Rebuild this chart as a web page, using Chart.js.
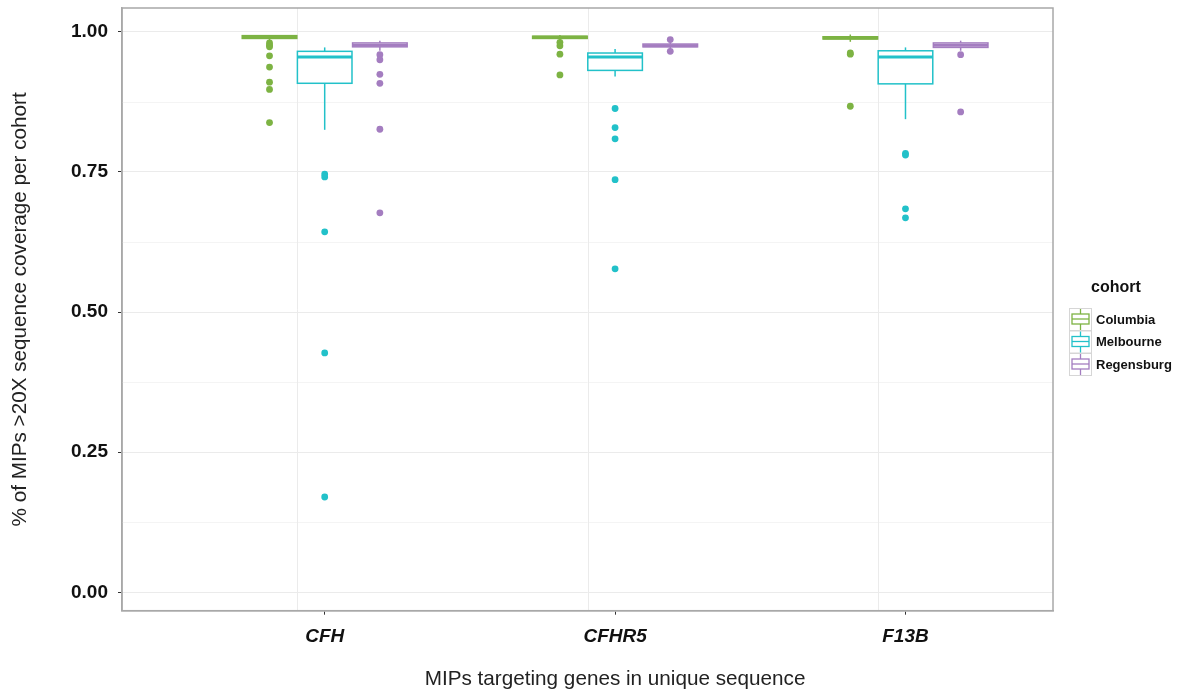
<!DOCTYPE html>
<html><head><meta charset="utf-8">
<script src="https://cdn.jsdelivr.net/npm/chart.js@4.4.1/dist/chart.umd.min.js"></script>
<style>html,body{margin:0;padding:0;background:#fff;}canvas{display:block;}</style>
</head><body>
<canvas id="c" width="1177" height="694"></canvas>
<script>
const genes = ['CFH', 'CFHR5', 'F13B'];
const cohorts = ['Columbia', 'Melbourne', 'Regensburg'];
const colors = ['#7DB343', '#22C1C9', '#A47DC0'];
const yTicks = [0, 0.25, 0.5, 0.75, 1.0];
const yMinorTicks = [0.125, 0.375, 0.625, 0.875];
const xTitle = 'MIPs targeting genes in unique sequence';
const yTitle = '% of MIPs >20X sequence coverage per cohort';

// box stats per gene: [whiskerLow, q1, median, q3, whiskerHigh]
const columbiaStats = [
  [0.984, 0.988, 0.991, 0.993, 0.994],
  [0.983, 0.988, 0.990, 0.992, 0.994],
  [0.982, 0.987, 0.989, 0.991, 0.995]
];
const melbourneStats = [
  [0.825, 0.908, 0.955, 0.965, 0.972],
  [0.920, 0.931, 0.955, 0.962, 0.969],
  [0.844, 0.907, 0.955, 0.966, 0.972]
];
const regensburgStats = [
  [0.966, 0.973, 0.976, 0.980, 0.984],
  [0.969, 0.973, 0.975, 0.978, 0.981],
  [0.966, 0.972, 0.976, 0.980, 0.984]
];

// outliers per gene
const columbiaOutliers = [
  [0.980, 0.976, 0.973, 0.957, 0.937, 0.910, 0.897, 0.838],
  [0.981, 0.975, 0.960, 0.923],
  [0.962, 0.960, 0.867]
];
const melbourneOutliers = [
  [0.746, 0.741, 0.643, 0.427, 0.170],
  [0.863, 0.829, 0.809, 0.736, 0.577],
  [0.783, 0.780, 0.684, 0.668]
];
const regensburgOutliers = [
  [0.959, 0.950, 0.924, 0.908, 0.826, 0.677],
  [0.986, 0.965],
  [0.959, 0.857]
];

const allStats = [columbiaStats, melbourneStats, regensburgStats];
const allOutliers = [columbiaOutliers, melbourneOutliers, regensburgOutliers];
const dodge = [-0.19, 0, 0.19];
const HALF = 0.094;
const FONT = "'Liberation Sans', Arial, sans-serif";

const datasets = cohorts.map((name, j) => ({
  label: name,
  data: allOutliers[j].flatMap((vals, i) => vals.map(v => ({ x: i + 1 + dodge[j], y: v }))),
  backgroundColor: colors[j],
  borderColor: colors[j],
  pointRadius: 3.4,
  pointBorderWidth: 0,
  pointHoverRadius: 3.4
}));

function line(ctx, x1, y1, x2, y2) {
  ctx.beginPath(); ctx.moveTo(x1, y1); ctx.lineTo(x2, y2); ctx.stroke();
}

const boxPlugin = {
  id: 'boxes',
  beforeDatasetsDraw(chart) {
    const { ctx, chartArea: a, scales: { x, y } } = chart;
    ctx.save();
    ctx.lineWidth = 1;
    ctx.strokeStyle = '#f4f4f4';
    yMinorTicks.forEach(v => {
      const py = Math.round(y.getPixelForValue(v)) + 0.5;
      line(ctx, a.left, py, a.right, py);
    });
    ctx.strokeStyle = '#ebebeb';
    genes.forEach((g, i) => {
      const px = Math.round(x.getPixelForValue(i + 1 - 0.095)) + 0.5;
      line(ctx, px, a.top, px, a.bottom);
    });
    allStats.forEach((stats, j) => {
      stats.forEach((s, i) => {
        const c = i + 1 + dodge[j];
        const xl = x.getPixelForValue(c - HALF);
        const xr = x.getPixelForValue(c + HALF);
        const xc = x.getPixelForValue(c);
        const [wl, q1, md, q3, wh] = s.map(v => y.getPixelForValue(v));
        ctx.strokeStyle = colors[j];
        ctx.lineWidth = 1.5;
        line(ctx, xc, wh, xc, q3);
        line(ctx, xc, q1, xc, wl);
        ctx.fillStyle = '#ffffff';
        ctx.fillRect(xl, q3, xr - xl, q1 - q3);
        ctx.strokeRect(xl, q3, xr - xl, q1 - q3);
        ctx.lineWidth = 3;
        line(ctx, xl, md, xr, md);
      });
    });
    ctx.restore();
  },
  afterDraw(chart) {
    const { ctx, chartArea: a, scales: { x } } = chart;
    ctx.save();
    ctx.strokeStyle = '#a8a8a8';
    ctx.lineWidth = 1.5;
    ctx.strokeRect(a.left, a.top, a.right - a.left, a.bottom - a.top);
    // x-axis title, centred under the middle category as in the reference
    ctx.fillStyle = '#222';
    ctx.font = `20.7px ${FONT}`;
    ctx.textAlign = 'center';
    ctx.textBaseline = 'middle';
    ctx.fillText(xTitle, x.getPixelForValue(2), 679);
    // legend
    ctx.fillStyle = '#111';
    ctx.font = `bold 16px ${FONT}`;
    ctx.textAlign = 'left';
    ctx.fillText('cohort', 1091, 288);
    cohorts.forEach((name, j) => {
      const cy = 319 + j * 22.5;
      const kx = 1069, kw = 22, kh = 22;
      ctx.strokeStyle = '#d6d6d6';
      ctx.lineWidth = 1;
      ctx.strokeRect(kx + 0.5, cy - kh / 2 + 0.5, kw, kh);
      ctx.strokeStyle = colors[j];
      ctx.lineWidth = 1.3;
      const bx1 = kx + 3, bx2 = kx + kw - 2;
      const by1 = cy - 5, by2 = cy + 5;
      const mx = kx + kw / 2 + 0.5;
      line(ctx, mx, cy - kh / 2 + 1, mx, by1);
      line(ctx, mx, by2, mx, cy + kh / 2);
      ctx.strokeRect(bx1, by1, bx2 - bx1, by2 - by1);
      line(ctx, bx1, cy, bx2, cy);
      ctx.fillStyle = '#111';
      ctx.font = `bold 13px ${FONT}`;
      ctx.fillText(name, 1096, cy + 1);
    });
    ctx.restore();
  }
};

new Chart(document.getElementById('c'), {
  type: 'scatter',
  data: { datasets },
  plugins: [boxPlugin],
  options: {
    responsive: false,
    animation: false,
    devicePixelRatio: 1,
    layout: { padding: { top: 8, right: 124, left: 0, bottom: 0 } },
    plugins: { legend: { display: false }, tooltip: { enabled: false } },
    scales: {
      x: {
        type: 'linear',
        min: 0.302,
        max: 3.508,
        afterBuildTicks: s => { s.ticks = genes.map((g, i) => ({ value: i + 1 })); },
        afterFit: s => { s.height = 83.3; s.paddingLeft = 0; s.paddingRight = 0; },
        ticks: {
          callback: v => genes[Math.round(v) - 1],
          font: { family: FONT, size: 19, weight: 'bold', style: 'italic' },
          color: '#111',
          padding: 11,
          maxRotation: 0,
          autoSkip: false
        },
        grid: { drawOnChartArea: false, drawTicks: true, tickLength: 4, tickColor: '#333', tickWidth: 1 },
        border: { display: true, color: '#a8a8a8', width: 1.5 },
        title: { display: false }
      },
      y: {
        type: 'linear',
        min: -0.0328,
        max: 1.0423,
        afterBuildTicks: s => { s.ticks = yTicks.map(v => ({ value: v })); },
        afterFit: s => { s.width = 122; s.paddingTop = 0; s.paddingBottom = 0; },
        ticks: {
          callback: v => Number(v).toFixed(2),
          font: { family: FONT, size: 19, weight: 'bold' },
          color: '#111',
          padding: 10
        },
        grid: { color: '#ebebeb', lineWidth: 1, drawTicks: true, tickLength: 4, tickColor: '#333', tickWidth: 1 },
        border: { display: true, color: '#a8a8a8', width: 1.5 },
        title: {
          display: true,
          text: yTitle,
          font: { family: FONT, size: 20.7 },
          color: '#222',
          padding: { top: 8, bottom: 0 }
        }
      }
    }
  }
});
</script>
</body></html>
